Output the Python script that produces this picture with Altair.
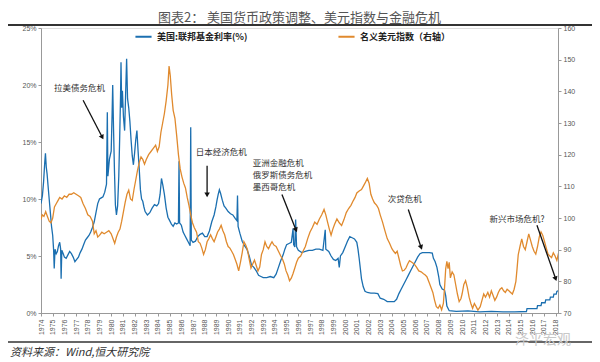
import math
import altair as alt
import pandas as pd

# ---------------- data ----------------
SERIES = ["美国:联邦基金利率(%)", "名义美元指数（右轴）"]

fed_years = [
    1974.0, 1974.12, 1974.22, 1974.32, 1974.38, 1974.45, 1974.52, 1974.6, 1974.7, 1974.8, 1974.9,
    1975.0, 1975.08, 1975.13, 1975.2, 1975.3, 1975.4, 1975.5, 1975.6, 1975.68, 1975.72, 1975.78, 1975.9,
    1976.0, 1976.15, 1976.3, 1976.45, 1976.6, 1976.75, 1976.9,
    1977.05, 1977.2, 1977.35, 1977.5, 1977.65, 1977.8, 1977.95,
    1978.1, 1978.25, 1978.4, 1978.55, 1978.7, 1978.85,
    1979.0, 1979.15, 1979.3, 1979.45, 1979.6, 1979.67, 1979.72, 1979.85,
    1980.0, 1980.08, 1980.13, 1980.2, 1980.28, 1980.36, 1980.45, 1980.55, 1980.65, 1980.73, 1980.8, 1980.84, 1980.9, 1980.96,
    1981.05, 1981.15, 1981.23, 1981.32, 1981.4, 1981.5, 1981.6, 1981.7, 1981.8, 1981.9,
    1982.0, 1982.1, 1982.2, 1982.3, 1982.4, 1982.5, 1982.6, 1982.7, 1982.8, 1982.9,
    1983.1, 1983.3, 1983.5, 1983.7, 1983.9,
    1984.05, 1984.18, 1984.3, 1984.42, 1984.55, 1984.7, 1984.85,
    1985.0, 1985.15, 1985.3, 1985.45, 1985.6, 1985.75, 1985.8, 1985.85,
    1986.0, 1986.15, 1986.3, 1986.45, 1986.6, 1986.75, 1986.8, 1986.85,
    1987.0, 1987.2, 1987.4, 1987.6, 1987.8,
    1988.0, 1988.2, 1988.4, 1988.6, 1988.8, 1988.95,
    1989.05, 1989.15, 1989.25, 1989.35, 1989.5, 1989.65, 1989.8,
    1990.0, 1990.2, 1990.4, 1990.6, 1990.75, 1990.8, 1990.85,
    1991.0, 1991.2, 1991.4, 1991.6, 1991.8,
    1992.0, 1992.2, 1992.4, 1992.6, 1992.8,
    1993.0, 1993.3, 1993.6, 1993.9,
    1994.1, 1994.3, 1994.5, 1994.7, 1994.85,
    1995.0, 1995.2, 1995.4, 1995.55, 1995.6, 1995.7, 1995.77, 1995.85,
    1996.0, 1996.3, 1996.6, 1996.9,
    1997.2, 1997.5, 1997.8,
    1998.1, 1998.3, 1998.35, 1998.6, 1998.8,
    1999.0, 1999.2, 1999.4, 1999.5, 1999.6, 1999.8,
    2000.0, 2000.2, 2000.4, 2000.6, 2000.8,
    2001.0, 2001.1, 2001.2, 2001.3, 2001.4, 2001.55, 2001.7, 2001.9,
    2002.2, 2002.5, 2002.8,
    2003.0, 2003.3, 2003.6, 2003.9,
    2004.2, 2004.4, 2004.6, 2004.8,
    2005.0, 2005.2, 2005.4, 2005.6, 2005.8,
    2006.0, 2006.2, 2006.4, 2006.6, 2006.9,
    2007.2, 2007.45, 2007.55, 2007.7, 2007.85,
    2008.0, 2008.1, 2008.3, 2008.5, 2008.6, 2008.7, 2008.9,
    2009.5, 2010.5, 2011.5, 2012.5, 2013.5, 2014.5, 2015.5,
    2015.55, 2016.4, 2016.45, 2016.75, 2016.8, 2017.1, 2017.15, 2017.5, 2017.55, 2017.8, 2017.85,
    2018.05, 2018.1, 2018.2,
]
fed_rate = [
    9.6, 10.3, 11.5, 13.2, 14.0, 12.8, 12.2, 11.2, 10.0, 8.8, 7.6,
    6.8, 5.5, 3.9, 5.6, 5.2, 5.4, 5.9, 6.2, 5.6, 3.0, 5.5, 5.2,
    4.9, 4.8, 5.1, 5.4, 5.2, 4.9, 4.5,
    4.7, 4.9, 5.3, 5.6, 6.0, 6.4, 6.6,
    6.8, 7.1, 7.5, 8.0, 8.8, 9.6,
    10.0, 10.1, 10.2, 10.6, 11.3, 17.6, 12.0, 13.5,
    14.2, 17.5, 20.0, 16.2, 12.5, 9.5, 8.6, 9.4, 12.0, 15.5, 19.0, 22.0, 18.0, 19.5,
    17.2, 16.0, 19.0, 22.3, 18.8, 18.0, 16.8, 15.2, 13.8, 13.0,
    14.0, 15.2, 16.0, 14.2, 12.6, 10.8, 10.0, 9.8, 9.3, 8.9,
    8.6, 8.8, 9.2, 9.5, 9.4,
    9.6, 10.4, 11.8, 11.2, 10.4, 9.2, 8.4,
    8.1, 7.8, 7.6, 7.9, 7.8, 7.9, 13.3, 7.9,
    7.7, 7.1, 6.8, 6.5, 6.2, 5.9, 16.3, 6.4,
    6.2, 6.3, 6.7, 6.9, 7.0,
    6.7, 6.7, 7.2, 8.0, 8.6, 9.3,
    9.9, 10.4, 10.8, 10.5, 9.9, 9.4, 9.2,
    8.9, 8.7, 8.6, 8.3, 8.1, 10.3, 7.6,
    7.0, 6.3, 5.9, 5.6, 5.0,
    4.2, 4.0, 3.7, 3.3, 3.2,
    3.1, 3.1, 3.2, 3.1,
    3.4, 4.0, 4.6, 5.1, 5.6,
    6.0, 6.1, 6.2, 7.4, 6.0, 5.8, 8.2, 5.8,
    5.5, 5.3, 5.4, 5.5,
    5.5, 5.6, 5.6,
    5.5, 7.3, 5.6, 5.4, 5.0,
    4.7, 4.6, 4.8, 4.0, 5.0, 5.3,
    5.8, 6.3, 6.7, 6.6, 6.5,
    6.2, 5.6, 4.8, 3.9, 3.0, 2.3, 1.9, 1.8,
    1.75, 1.75, 1.7,
    1.3, 1.2, 1.0, 1.0,
    1.0, 1.2, 1.7, 2.1,
    2.5, 2.9, 3.3, 3.7, 4.1,
    4.5, 4.9, 5.2, 5.3, 5.3,
    5.3, 5.25, 4.8, 4.5, 4.0,
    3.2, 2.5, 2.1, 2.0, 1.5, 0.6, 0.2,
    0.15, 0.18, 0.1, 0.15, 0.1, 0.1, 0.13,
    0.38, 0.38, 0.65, 0.65, 0.9, 0.9, 1.15, 1.15, 1.4, 1.4, 1.65,
    1.65, 1.9, 1.95,
]

usd_years = [
    1974.0, 1974.1, 1974.25, 1974.4, 1974.55, 1974.7, 1974.85,
    1975.0, 1975.15, 1975.3, 1975.45, 1975.6, 1975.8,
    1976.0, 1976.2, 1976.4, 1976.6, 1976.8,
    1977.0, 1977.2, 1977.4, 1977.6, 1977.8,
    1978.0, 1978.2, 1978.4, 1978.55, 1978.7, 1978.85,
    1979.0, 1979.2, 1979.4, 1979.6, 1979.8,
    1980.0, 1980.15, 1980.3, 1980.45, 1980.6, 1980.75, 1980.9,
    1981.05, 1981.2, 1981.35, 1981.5, 1981.65, 1981.8, 1981.95,
    1982.1, 1982.25, 1982.4, 1982.55, 1982.7, 1982.85,
    1983.0, 1983.2, 1983.4, 1983.6, 1983.8, 1983.95,
    1984.1, 1984.25, 1984.4, 1984.55, 1984.7, 1984.85, 1984.95,
    1985.05, 1985.17, 1985.3, 1985.45, 1985.6, 1985.75, 1985.9,
    1986.05, 1986.2, 1986.35, 1986.5, 1986.65, 1986.8, 1986.95,
    1987.1, 1987.3, 1987.45, 1987.6, 1987.75, 1987.9,
    1988.05, 1988.2, 1988.35, 1988.5, 1988.65, 1988.8, 1988.95,
    1989.1, 1989.25, 1989.4, 1989.55, 1989.7, 1989.85,
    1990.0, 1990.15, 1990.3, 1990.45, 1990.6, 1990.75, 1990.9,
    1991.05, 1991.2, 1991.35, 1991.5, 1991.65, 1991.8, 1991.95,
    1992.1, 1992.25, 1992.4, 1992.55, 1992.7, 1992.85,
    1993.0, 1993.15, 1993.3, 1993.45, 1993.6, 1993.75, 1993.9,
    1994.1, 1994.3, 1994.5, 1994.65, 1994.8, 1994.95,
    1995.1, 1995.25, 1995.4, 1995.55, 1995.7, 1995.85,
    1996.0, 1996.2, 1996.4, 1996.6, 1996.8,
    1997.0, 1997.2, 1997.4, 1997.6, 1997.8,
    1998.0, 1998.2, 1998.35, 1998.5, 1998.65, 1998.8, 1998.95,
    1999.1, 1999.3, 1999.5, 1999.7, 1999.9,
    2000.1, 2000.3, 2000.5, 2000.7, 2000.85,
    2001.0, 2001.2, 2001.4, 2001.55, 2001.7, 2001.9,
    2002.05, 2002.2, 2002.35, 2002.5, 2002.7, 2002.85,
    2003.0, 2003.2, 2003.4, 2003.6, 2003.8,
    2004.0, 2004.15, 2004.3, 2004.45, 2004.6, 2004.75, 2004.9,
    2005.05, 2005.2, 2005.35, 2005.5, 2005.7, 2005.9,
    2006.1, 2006.3, 2006.5, 2006.7, 2006.85,
    2007.0, 2007.2, 2007.35, 2007.5, 2007.65, 2007.8, 2007.95,
    2008.1, 2008.25, 2008.4, 2008.5, 2008.6, 2008.7, 2008.8, 2008.9,
    2009.0, 2009.15, 2009.3, 2009.45, 2009.6, 2009.75, 2009.9,
    2010.0, 2010.15, 2010.3, 2010.45, 2010.6, 2010.75, 2010.9,
    2011.05, 2011.2, 2011.35, 2011.55, 2011.7, 2011.85,
    2012.0, 2012.2, 2012.35, 2012.5, 2012.65, 2012.8, 2012.95,
    2013.1, 2013.25, 2013.4, 2013.55, 2013.7, 2013.85,
    2014.0, 2014.15, 2014.3, 2014.45, 2014.6, 2014.7, 2014.8, 2014.95,
    2015.1, 2015.25, 2015.4, 2015.55, 2015.7, 2015.85,
    2016.0, 2016.15, 2016.3, 2016.45, 2016.6, 2016.75, 2016.9,
    2017.05, 2017.2, 2017.35, 2017.5, 2017.65, 2017.8, 2017.95,
    2018.1, 2018.25, 2018.35,
]
usd_index = [
    99.5, 101.0, 100.5, 102.0, 100.5, 99.0, 98.5,
    100.0, 103.5, 104.5, 105.5, 106.5, 106.0,
    107.0, 106.5, 107.5, 107.5, 108.0,
    107.5, 107.0, 106.5, 104.5, 103.0,
    101.0, 100.5, 99.0, 95.0, 96.0, 94.0,
    94.5, 95.5, 95.0, 95.5, 96.0,
    95.0, 93.5, 92.0, 94.0, 95.5, 96.5, 99.0,
    102.0, 105.0, 107.5, 108.8, 106.0, 105.5, 109.0,
    112.0, 115.0, 117.5, 119.3, 118.5, 117.0,
    118.5, 120.0, 121.0, 122.0, 123.0, 121.0,
    122.5, 127.0, 130.0, 133.0, 137.0, 142.0, 148.0,
    145.0, 139.0, 134.0, 131.5, 126.0, 120.0, 115.5,
    113.0, 111.0, 109.5, 106.5, 104.0, 101.0, 98.5,
    97.0, 95.5, 92.5, 92.0, 90.5, 88.5,
    90.0, 92.5, 93.5, 94.7, 93.5, 92.5, 94.0,
    95.6, 96.5, 97.7, 96.0, 94.7, 92.5,
    91.0, 90.5, 89.5, 88.5, 87.0, 85.4, 83.3,
    86.0, 89.0, 92.5, 91.5, 90.0, 87.0, 84.2,
    85.5, 86.7, 85.0, 83.3, 84.5, 88.5,
    90.0, 92.5, 91.0, 90.3, 91.5, 92.5, 91.5,
    91.0, 89.5, 88.0, 87.0, 85.5, 83.3,
    82.0, 80.2, 81.0, 82.5, 84.2, 86.0,
    87.3, 88.0, 89.5, 91.0, 93.5,
    95.6, 97.0, 98.7, 98.0, 99.7,
    101.0, 102.7, 101.0, 98.7, 96.5, 94.6, 96.5,
    98.0, 99.7, 98.5, 97.6, 99.5,
    101.7, 103.0, 104.0, 105.5, 106.5,
    107.9, 108.5, 109.0, 110.0, 111.0, 112.5,
    111.0, 107.5, 106.0, 104.8, 104.0, 103.0,
    101.0, 98.7, 96.0, 93.5, 92.0,
    90.3, 89.5, 88.8, 89.5, 87.3, 85.0, 83.3,
    83.5, 84.2, 85.5, 86.5, 86.0, 85.5,
    84.5, 83.3, 83.0, 82.4, 82.0,
    81.4, 79.5, 78.0, 76.5, 74.0, 72.0, 71.5,
    72.5, 71.0, 73.0, 78.0, 84.0, 86.3, 84.0, 86.0,
    81.1, 83.0, 82.0, 79.0, 76.0, 73.6, 74.5,
    76.0, 79.0, 80.2, 78.0, 75.0, 73.0, 71.5,
    73.0, 72.0, 70.9, 72.0, 74.0, 76.0,
    75.0, 76.5, 75.0, 77.0, 75.5, 74.0, 75.0,
    76.5, 77.5, 78.0, 77.0, 76.5, 77.5,
    77.0, 76.5, 76.0, 77.5, 80.0, 84.0, 88.4, 91.0,
    93.4, 91.0, 90.0, 92.5, 95.0, 93.0,
    91.0, 89.5, 88.6, 91.0, 94.0, 95.6, 94.5,
    92.5, 90.5, 88.6, 88.0, 87.5, 89.0, 88.0,
    86.6, 89.0, 90.5,
]

year_ticks = list(range(1974, 2019))
pct_ticks = [0, 5, 10, 15, 20, 25]
usd_ticks = list(range(70, 161, 10))

# annotations (placed in right-axis units)
ann_text = ["拉美债务危机", "日本经济危机", "次贷危机", "新兴市场危机?",
            "亚洲金融危机", "俄罗斯债务危机", "墨西哥危机"]
ann_year = [1977.3, 1989.4, 2005.1, 2014.7, 1992.1, 1992.1, 1992.1]
ann_value = [140.9, 120.9, 106.1, 99.6, 117.4, 113.6, 109.8]
ann_align = ["center", "center", "center", "center", "left", "left", "left"]

arrow_year_start = [1977.6, 1988.2, 1994.6, 2005.4, 2016.4]
arrow_val_start = [137.2, 116.5, 107.4, 102.7, 97.7]
arrow_year_end = [1979.24, 1988.2, 1995.8, 2006.5, 2018.0]
arrow_val_end = [125.5, 107.3, 96.2, 90.7, 80.8]

TITLE = "图表2： 美国货币政策调整、美元指数与金融危机"
SOURCE = "资料来源：Wind,恒大研究院"
WATERMARK = "泽平宏观"

# ---------------- layout / style ----------------
W, H = 517, 285
X_DOMAIN = [1974, 2018.2]
BLUE = "#1b6fb0"
ORANGE = "#e08a2e"
CJK = "Noto Sans CJK SC"
LAT = "Liberation Sans"

fed_df = pd.DataFrame({"year": fed_years, "value": fed_rate, "series": SERIES[0]})
usd_df = pd.DataFrame({"year": usd_years, "value": usd_index, "series": SERIES[1]})
ann_df = pd.DataFrame({"year": ann_year, "value": ann_value, "label": ann_text, "align": ann_align})


def arrow_angle(ys, vs, ye, ve):
    dx = (ye - ys) * W / (X_DOMAIN[1] - X_DOMAIN[0])
    dy_up = (ve - vs) * H / 90.0
    return math.degrees(math.atan2(dx, dy_up)) % 360


arrow_df = pd.DataFrame({
    "ys": arrow_year_start, "vs": arrow_val_start,
    "ye": arrow_year_end, "ve": arrow_val_end,
})
arrow_df["angle"] = [arrow_angle(a, b, c, d) for a, b, c, d in
                     zip(arrow_year_start, arrow_val_start, arrow_year_end, arrow_val_end)]

x_scale = alt.Scale(domain=X_DOMAIN, nice=False, zero=False)
x_axis = alt.Axis(values=year_ticks, format="d", labelAngle=270, title=None, grid=False,
                  labelFontSize=7, labelFont=LAT, labelColor="#555", tickSize=3,
                  domainColor="#999", tickColor="#999", labelPadding=3, labelOverlap=False)
color_enc = alt.Color(
    "series:N",
    scale=alt.Scale(domain=SERIES, range=[BLUE, ORANGE]),
    legend=alt.Legend(title=None, orient="none", legendX=93, legendY=-1,
                      direction="horizontal", symbolType="stroke", symbolStrokeWidth=2,
                      symbolSize=260, labelFontSize=9, labelFont=CJK, labelFontWeight="bold",
                      labelColor="#222", columnPadding=86, labelOffset=4),
)
usd_scale = alt.Scale(domain=[70, 160], nice=False, zero=False)
usd_axis = alt.Axis(values=usd_ticks, title=None, grid=False, orient="right",
                    labelFontSize=7, labelFont=LAT, labelColor="#555",
                    tickSize=3, domainColor="#999", tickColor="#999")

blue = alt.Chart(fed_df).mark_line(strokeWidth=1.3, clip=True).encode(
    x=alt.X("year:Q", scale=x_scale, axis=x_axis),
    y=alt.Y("value:Q", scale=alt.Scale(domain=[0, 25], nice=False, zero=True),
            axis=alt.Axis(values=pct_ticks, labelExpr="datum.value + '%'", title=None, grid=False,
                          orient="left", labelFontSize=7, labelFont=LAT, labelColor="#555",
                          tickSize=3, domainColor="#999", tickColor="#999")),
    color=color_enc,
    order=alt.Order("year:Q"),
)

orange = alt.Chart(usd_df).mark_line(strokeWidth=1.3, clip=True).encode(
    x=alt.X("year:Q", scale=x_scale, axis=x_axis),
    y=alt.Y("value:Q", scale=usd_scale, axis=usd_axis),
    color=color_enc,
    order=alt.Order("year:Q"),
)

arrows = alt.Chart(arrow_df).mark_rule(color="#111", strokeWidth=1.3).encode(
    x=alt.X("ys:Q", scale=x_scale, axis=x_axis),
    y=alt.Y("vs:Q", scale=usd_scale, axis=usd_axis),
    x2="ye:Q",
    y2="ve:Q",
)
heads = alt.Chart(arrow_df).mark_point(shape="triangle-up", filled=True, color="#111",
                                       size=30, opacity=1).encode(
    x=alt.X("ye:Q", scale=x_scale, axis=x_axis),
    y=alt.Y("ve:Q", scale=usd_scale, axis=usd_axis),
    angle=alt.Angle("angle:Q", scale=None),
)
text_center = alt.Chart(ann_df).transform_filter("datum.align == 'center'").mark_text(
    font=CJK, fontSize=8.5, color="#333", align="center", baseline="middle").encode(
    x=alt.X("year:Q", scale=x_scale, axis=x_axis),
    y=alt.Y("value:Q", scale=usd_scale, axis=usd_axis),
    text="label:N",
)
text_left = alt.Chart(ann_df).transform_filter("datum.align == 'left'").mark_text(
    font=CJK, fontSize=8.5, color="#333", align="left", baseline="middle").encode(
    x=alt.X("year:Q", scale=x_scale, axis=x_axis),
    y=alt.Y("value:Q", scale=usd_scale, axis=usd_axis),
    text="label:N",
)

deco_df = pd.DataFrame({"source": [SOURCE], "wm": [WATERMARK]})
top_rule = alt.Chart(deco_df).mark_rule(color="#333", strokeWidth=2).encode(
    x=alt.value(-33), x2=alt.value(551), y=alt.value(-3))
bottom_rule = alt.Chart(deco_df).mark_rule(color="#333", strokeWidth=1.5).encode(
    x=alt.value(-33), x2=alt.value(551), y=alt.value(314))
source_text = alt.Chart(deco_df).mark_text(font=CJK, fontSize=11, fontStyle="italic",
                                           color="#333", align="left", baseline="middle").encode(
    x=alt.value(-31), y=alt.value(325), text="source:N")
wm_text = alt.Chart(deco_df).mark_text(font=CJK, fontSize=14, color="#c8c8c8",
                                       align="left", baseline="middle").encode(
    x=alt.value(474), y=alt.value(312), text="wm:N")

inner = alt.layer(orange, arrows, heads, text_center, text_left)

chart = alt.layer(
    blue, inner, top_rule, bottom_rule, source_text, wm_text
).resolve_scale(y="independent").properties(
    width=W, height=H,
    autosize=alt.AutoSizeParams(type="none"),
    padding={"left": 33, "top": 20, "right": 34, "bottom": 49},
    title=alt.TitleParams(TITLE, font=CJK, fontSize=13, fontWeight="normal", color="#555",
                          anchor="middle", offset=4, dy=5),
).configure_view(stroke=None).configure(background="white")

chart.save("out.html", embed_options={"renderer": "svg", "actions": False})
